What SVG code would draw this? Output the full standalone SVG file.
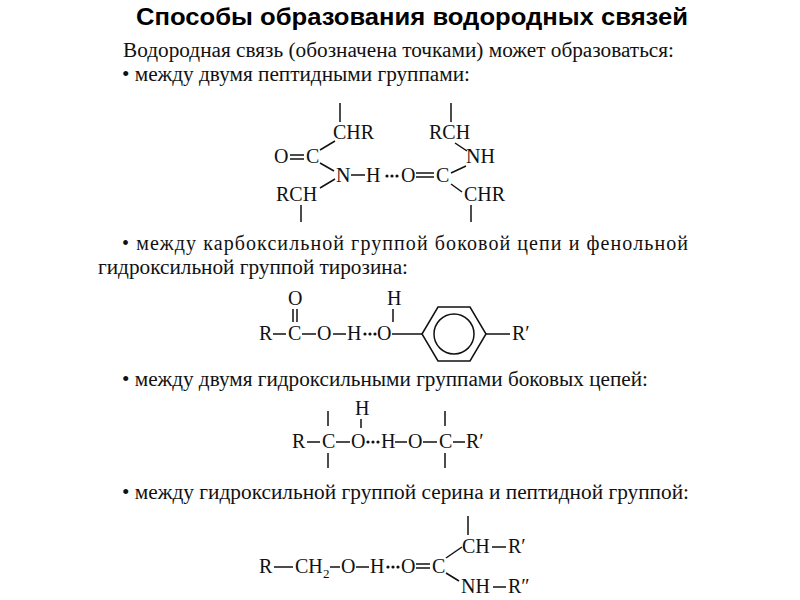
<svg xmlns="http://www.w3.org/2000/svg" width="800" height="600" viewBox="0 0 800 600">
<style>
.t{font-family:"Liberation Serif",serif;font-size:20px;fill:#111}
.a{font-family:"Liberation Serif",serif;font-size:20px;fill:#111}
.s{font-family:"Liberation Serif",serif;font-size:13px;fill:#111}
line,polygon,circle{stroke:#111;stroke-width:1.5;fill:none}
.d{fill:#111;stroke:none}
</style>
<rect width="800" height="600" fill="#fff"/>
<text x="136" y="25" textLength="552" lengthAdjust="spacingAndGlyphs" font-family="Liberation Sans,Arial,sans-serif" font-weight="bold" font-size="23" fill="#000">Способы образования водородных связей</text>
<text class="t" x="123" y="57" textLength="551" lengthAdjust="spacingAndGlyphs">Водородная связь (обозначена точками) может образоваться:</text>
<text class="t" x="122" y="81" textLength="348" lengthAdjust="spacingAndGlyphs">• между двумя пептидными группами:</text>
<text class="t" x="122" y="250" textLength="566" lengthAdjust="spacing">• между карбоксильной группой боковой цепи и фенольной</text>
<text class="t" x="98" y="274" textLength="310" lengthAdjust="spacingAndGlyphs">гидроксильной группой тирозина:</text>
<text class="t" x="122" y="386" textLength="526" lengthAdjust="spacingAndGlyphs">• между двумя гидроксильными группами боковых цепей:</text>
<text class="t" x="122" y="499" textLength="567" lengthAdjust="spacingAndGlyphs">• между гидроксильной группой серина и пептидной группой:</text>

<!-- structure 1 -->
<g id="s1">
<line x1="340" y1="103" x2="340" y2="122"/>
<text class="a" x="333" y="139">CHR</text>
<text class="a" x="274" y="163">O</text>
<line x1="290" y1="155" x2="304" y2="155"/><line x1="290" y1="159" x2="304" y2="159"/>
<text class="a" x="306" y="163">C</text>
<line x1="320" y1="150" x2="335" y2="141"/>
<line x1="320" y1="163" x2="334" y2="171"/>
<text class="a" x="336" y="182">N</text>
<line x1="351" y1="175" x2="365" y2="175"/>
<text class="a" x="366" y="182">H</text>
<circle class="d" cx="387" cy="176" r="1.6"/><circle class="d" cx="392" cy="176" r="1.6"/><circle class="d" cx="397" cy="176" r="1.6"/>
<text class="a" x="401" y="182">O</text>
<line x1="416" y1="173" x2="434" y2="173"/><line x1="416" y1="177" x2="434" y2="177"/>
<text class="a" x="436" y="182">C</text>
<line x1="335" y1="179" x2="320" y2="188"/>
<text class="a" x="276" y="201">RCH</text>
<line x1="301" y1="205" x2="301" y2="222"/>
<line x1="451" y1="103" x2="451" y2="122"/>
<text class="a" x="429" y="139">RCH</text>
<line x1="455" y1="143" x2="467" y2="151"/>
<text class="a" x="466" y="163">NH</text>
<line x1="466" y1="166" x2="451" y2="173"/>
<line x1="451" y1="184" x2="462" y2="192"/>
<text class="a" x="464" y="201">CHR</text>
<line x1="471" y1="205" x2="471" y2="222"/>
</g>

<!-- structure 2 -->
<g id="s2">
<text class="a" x="259" y="340">R</text>
<line x1="273" y1="334" x2="286" y2="334"/>
<text class="a" x="288" y="340">C</text>
<text class="a" x="288" y="305">O</text>
<line x1="293" y1="309" x2="293" y2="322"/><line x1="297" y1="309" x2="297" y2="322"/>
<line x1="302" y1="334" x2="316" y2="334"/>
<text class="a" x="317" y="340">O</text>
<line x1="333" y1="334" x2="346" y2="334"/>
<text class="a" x="347" y="340">H</text>
<circle class="d" cx="365" cy="334" r="1.6"/><circle class="d" cx="370" cy="334" r="1.6"/><circle class="d" cx="375" cy="334" r="1.6"/>
<text class="a" x="377" y="340">O</text>
<text class="a" x="387" y="305">H</text>
<line x1="393" y1="309" x2="393" y2="322"/>
<line x1="392" y1="334" x2="422" y2="334"/>
<polygon points="422,334 438,307 470,307 486,334 470,361 438,361"/>
<circle cx="454" cy="334" r="20"/>
<line x1="486" y1="334" x2="510" y2="334"/>
<text class="a" x="512" y="340">R′</text>
</g>

<!-- structure 3 -->
<g id="s3">
<text class="a" x="292" y="448">R</text>
<line x1="307" y1="442" x2="320" y2="442"/>
<text class="a" x="322" y="448">C</text>
<line x1="328" y1="411" x2="328" y2="426"/><line x1="328" y1="453" x2="328" y2="468"/>
<line x1="336" y1="442" x2="350" y2="442"/>
<text class="a" x="351" y="448">O</text>
<text class="a" x="355" y="415">H</text>
<line x1="361" y1="419" x2="361" y2="428"/>
<circle class="d" cx="368" cy="442" r="1.6"/><circle class="d" cx="373" cy="442" r="1.6"/><circle class="d" cx="378" cy="442" r="1.6"/>
<text class="a" x="381" y="448">H</text>
<line x1="395" y1="442" x2="407" y2="442"/>
<text class="a" x="408" y="448">O</text>
<line x1="423" y1="442" x2="437" y2="442"/>
<text class="a" x="439" y="448">C</text>
<line x1="445" y1="411" x2="445" y2="426"/><line x1="445" y1="453" x2="445" y2="468"/>
<line x1="453" y1="442" x2="465" y2="442"/>
<text class="a" x="466" y="448">R′</text>
</g>

<!-- structure 4 -->
<g id="s4">
<text class="a" x="259" y="573">R</text>
<line x1="274" y1="567" x2="293" y2="567"/>
<text class="a" x="295" y="573">CH</text>
<text class="s" x="323" y="578">2</text>
<line x1="330" y1="567" x2="340" y2="567"/>
<text class="a" x="341" y="573">O</text>
<line x1="356" y1="567" x2="369" y2="567"/>
<text class="a" x="370" y="573">H</text>
<circle class="d" cx="388" cy="567" r="1.6"/><circle class="d" cx="393" cy="567" r="1.6"/><circle class="d" cx="398" cy="567" r="1.6"/>
<text class="a" x="401" y="573">O</text>
<line x1="416" y1="564" x2="430" y2="564"/><line x1="416" y1="568" x2="430" y2="568"/>
<text class="a" x="432" y="573">C</text>
<line x1="446" y1="558" x2="462" y2="547"/>
<line x1="446" y1="573" x2="459" y2="581"/>
<line x1="468" y1="516" x2="468" y2="535"/>
<text class="a" x="462" y="553">CH</text>
<line x1="492" y1="547" x2="506" y2="547"/>
<text class="a" x="508" y="553">R′</text>
<text class="a" x="461" y="593">NH</text>
<line x1="493" y1="587" x2="506" y2="587"/>
<text class="a" x="508" y="593">R″</text>
</g>
</svg>
